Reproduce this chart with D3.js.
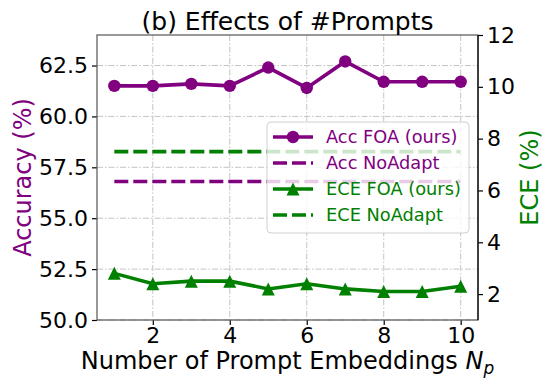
<!DOCTYPE html>
<html>
<head>
<meta charset="utf-8">
<script src="https://cdn.jsdelivr.net/npm/d3@7"></script>
<style>
  body { margin: 0; background: #fff; }
  svg { font-family: "DejaVu Sans", sans-serif; }
</style>
</head>
<body>
<div id="main"></div>
<script>
// data
var prompts = [1, 2, 3, 4, 5, 6, 7, 8, 9, 10];
var accFOA = [61.5, 61.5, 61.6, 61.5, 62.4, 61.4, 62.7, 61.7, 61.7, 61.7];
var eceFOA = [2.8, 2.4, 2.5, 2.5, 2.2, 2.4, 2.2, 2.1, 2.1, 2.3];
var accNoAdapt = 56.8;
var eceNoAdapt = 7.5;
var xTicks = [2, 4, 6, 8, 10];
var accTicks = [50, 52.5, 55, 57.5, 60, 62.5];
var eceTicks = [2, 4, 6, 8, 10, 12];

var W = 553, H = 391;
// plot box (note: "top" is reserved on window, so use pTop etc.)
var pLeft = 97, pRight = 478, pTop = 35, pBottom = 320;
var purple = '#800080', green = '#008000';

const svg = d3.select('#main')
    .append('svg')
    .attr('width', W)
    .attr('height', H)
    .attr('viewBox', [0, 0, W, H]);

var x = d3.scaleLinear().domain([0.55, 10.45]).range([pLeft, pRight]);
var yAcc = d3.scaleLinear().domain([50, 64]).range([pBottom, pTop]);
var yEce = d3.scaleLinear().domain([1, 12]).range([pBottom, pTop]);

// grid (dash-dot)
var grid = svg.append('g')
    .attr('stroke', '#c4c4c4')
    .attr('stroke-width', 1)
    .attr('stroke-dasharray', '6,2,1.5,2');
grid.selectAll('.gx').data(xTicks).enter().append('line')
    .attr('x1', d => x(d)).attr('x2', d => x(d))
    .attr('y1', pTop).attr('y2', pBottom);
grid.selectAll('.gy').data(accTicks).enter().append('line')
    .attr('x1', pLeft).attr('x2', pRight)
    .attr('y1', d => yAcc(d)).attr('y2', d => yAcc(d));

// axes
var fs = '22px';
var axB = svg.append('g')
    .attr('transform', `translate(0,${pBottom})`)
    .call(d3.axisBottom(x).tickValues(xTicks).tickFormat(d3.format('d')).tickSize(5).tickPadding(2));
var axL = svg.append('g')
    .attr('transform', `translate(${pLeft},0)`)
    .call(d3.axisLeft(yAcc).tickValues(accTicks).tickFormat(d3.format('.1f')).tickSize(5).tickPadding(4));
var axR = svg.append('g')
    .attr('transform', `translate(${pRight},0)`)
    .call(d3.axisRight(yEce).tickValues(eceTicks).tickFormat(d3.format('d')).tickSize(5).tickPadding(4));
[axB, axL, axR].forEach(function (a) {
    a.selectAll('text').attr('font-size', fs).attr('fill', '#000')
        .attr('font-family', '"DejaVu Sans", sans-serif');
    a.select('.domain').remove();
    a.selectAll('.tick line').attr('stroke', '#000').attr('stroke-width', 1.2);
});

// spines
svg.append('rect')
    .attr('x', pLeft).attr('y', pTop)
    .attr('width', pRight - pLeft).attr('height', pBottom - pTop)
    .attr('fill', 'none').attr('stroke', '#555').attr('stroke-width', 1.2);
svg.append('line')
    .attr('x1', pRight).attr('x2', pRight).attr('y1', pTop).attr('y2', pBottom)
    .attr('stroke', '#000').attr('stroke-width', 1.2);

// lines
var lw = 3.6;
var accLine = d3.line().x((d, i) => x(prompts[i])).y(d => yAcc(d));
var eceLine = d3.line().x((d, i) => x(prompts[i])).y(d => yEce(d));
var xMin = d3.min(prompts), xMax = d3.max(prompts);

svg.append('path')
    .attr('d', d3.line()([[x(xMin), yEce(eceNoAdapt)], [x(xMax), yEce(eceNoAdapt)]]))
    .attr('stroke', green).attr('stroke-width', lw).attr('stroke-dasharray', '14,5').attr('fill', 'none');
svg.append('path')
    .attr('d', d3.line()([[x(xMin), yAcc(accNoAdapt)], [x(xMax), yAcc(accNoAdapt)]]))
    .attr('stroke', purple).attr('stroke-width', lw).attr('stroke-dasharray', '14,5').attr('fill', 'none');

svg.append('path')
    .attr('d', accLine(accFOA))
    .attr('stroke', purple).attr('stroke-width', lw).attr('fill', 'none');
svg.selectAll('.accpt').data(accFOA).enter().append('circle')
    .attr('cx', (d, i) => x(prompts[i])).attr('cy', d => yAcc(d))
    .attr('r', 6.2).attr('fill', purple);

svg.append('path')
    .attr('d', eceLine(eceFOA))
    .attr('stroke', green).attr('stroke-width', lw).attr('fill', 'none');

function tri(cx, cy, s) {
    return `M${cx},${cy - s}L${cx + s},${cy + s}L${cx - s},${cy + s}Z`;
}
svg.selectAll('.ecept').data(eceFOA).enter().append('path')
    .attr('d', (d, i) => tri(x(prompts[i]), yEce(d), 6.5))
    .attr('fill', green);

// legend
var lg = svg.append('g');
lg.append('rect')
    .attr('x', 267).attr('y', 122).attr('width', 202).attr('height', 111)
    .attr('rx', 4)
    .attr('fill', '#fff').attr('fill-opacity', 0.8)
    .attr('stroke', '#d0d0d0').attr('stroke-width', 1);
var items = [
    { label: 'Acc FOA (ours)', color: purple, dash: null, marker: 'circle' },
    { label: 'Acc NoAdapt', color: purple, dash: '14,5', marker: null },
    { label: 'ECE FOA (ours)', color: green, dash: null, marker: 'tri' },
    { label: 'ECE NoAdapt', color: green, dash: '14,5', marker: null }
];
var rowY = [137, 163, 189, 215];
items.forEach(function (it, i) {
    var y = rowY[i];
    lg.append('line')
        .attr('x1', 273).attr('x2', 313).attr('y1', y).attr('y2', y)
        .attr('stroke', it.color).attr('stroke-width', lw)
        .attr('stroke-dasharray', it.dash);
    if (it.marker === 'circle') {
        lg.append('circle').attr('cx', 293).attr('cy', y).attr('r', 6.2).attr('fill', it.color);
    } else if (it.marker === 'tri') {
        lg.append('path').attr('d', tri(293, y, 6.5)).attr('fill', it.color);
    }
    lg.append('text')
        .attr('x', 326).attr('y', y).attr('dy', '0.35em')
        .attr('font-size', '17.8px').attr('fill', it.color)
        .text(it.label);
});

// title and labels
svg.append('text')
    .attr('x', (pLeft + pRight) / 2).attr('y', 30)
    .attr('text-anchor', 'middle').attr('font-size', '25px')
    .text('(b) Effects of #Prompts');

var xl = svg.append('text')
    .attr('x', (pLeft + pRight) / 2).attr('y', 369)
    .attr('text-anchor', 'middle').attr('font-size', '24px');
xl.append('tspan').text('Number of Prompt Embeddings ');
xl.append('tspan').attr('font-style', 'italic').text('N');
xl.append('tspan').attr('font-style', 'italic').attr('font-size', '17px').attr('dy', 5).text('p');

svg.append('text')
    .attr('transform', `translate(31,${(pTop + pBottom) / 2}) rotate(-90)`)
    .attr('text-anchor', 'middle').attr('font-size', '24px').attr('fill', purple)
    .text('Accuracy (%)');
svg.append('text')
    .attr('transform', `translate(538,${(pTop + pBottom) / 2}) rotate(-90)`)
    .attr('text-anchor', 'middle').attr('font-size', '24px').attr('fill', green)
    .text('ECE (%)');
</script>
</body>
</html>
